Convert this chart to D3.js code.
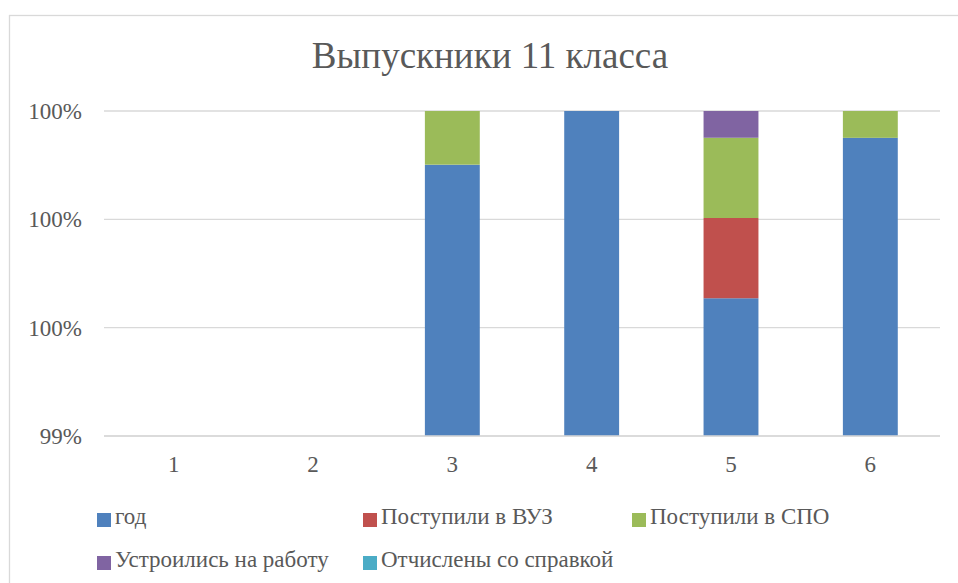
<!DOCTYPE html>
<html><head><meta charset="utf-8">
<script src="https://cdn.jsdelivr.net/npm/d3@7"></script>
<style>body{margin:0;background:#fff;}svg{display:block;}
text{font-family:"Liberation Serif","Times New Roman",Times,"DejaVu Serif","Noto Serif",serif;}</style>
</head><body>
<script>
const categories = ["1","2","3","4","5","6"];
const seriesNames = ["год","Поступили в ВУЗ","Поступили в СПО","Устроились на работу","Отчислены со справкой"];
const god        = [0, 0, 2016, 2017, 2018, 2019];
const vuz        = [0, 0, 0, 0, 3, 0];
const spo        = [0, 0, 2, 0, 3, 1];
const rabota     = [0, 0, 0, 0, 1, 0];
const otchisleny = [0, 0, 0, 0, 0, 0];
const yTicks = [0.994, 0.996, 0.998, 1.0];
const colors = ["#4f81bd","#c0504d","#9bbb59","#8064a2","#4bacc6"];

const W = 958, H = 583;
const svg = d3.select("body").append("svg").attr("width", W).attr("height", H);
svg.append("rect").attr("x",9.5).attr("y",15.5).attr("width",1000).attr("height",1000)
  .attr("fill","#fff").attr("stroke","#d9d9d9").attr("stroke-width",1.3);

const txt = "#595959";
const plot = {l:104, r:940, t:111, b:436};

svg.append("text").attr("x",490).attr("y",68).attr("text-anchor","middle")
  .attr("font-size",37).attr("fill",txt).text("Выпускники 11 класса");

const x = d3.scaleBand().domain(categories).range([plot.l, plot.r]).paddingInner(0.606).paddingOuter(0.303);
const y = d3.scaleLinear().domain([0.994, 1]).range([plot.b, plot.t]);

svg.append("g").selectAll("line").data(yTicks).join("line")
  .attr("x1",plot.l).attr("x2",plot.r).attr("y1",d=>y(d)).attr("y2",d=>y(d))
  .attr("stroke","#d9d9d9").attr("stroke-width",1.3);

const table = categories.map((c,i)=>({cat:c, s0:god[i], s1:vuz[i], s2:spo[i], s3:rabota[i], s4:otchisleny[i]}));
const keys = ["s0","s1","s2","s3","s4"];
const stack = d3.stack().keys(keys).offset(d3.stackOffsetExpand);
const layers = stack(table);

svg.append("clipPath").attr("id","clip").append("rect")
  .attr("x",plot.l).attr("y",plot.t-1).attr("width",plot.r-plot.l).attr("height",plot.b-plot.t+1);
const gBars = svg.append("g").attr("clip-path","url(#clip)");
layers.forEach((layer,k)=>{
  gBars.append("g").attr("fill",colors[k]).selectAll("rect")
    .data(layer.filter(d=>!isNaN(d[1]) && d[1]-d[0]>0)).join("rect")
    .attr("x",d=>x(d.data.cat)).attr("width",x.bandwidth())
    .attr("y",d=>y(d[1])).attr("height",d=>Math.max(0,y(d[0])-y(d[1])));
});

svg.append("line").attr("x1",plot.l).attr("x2",plot.r).attr("y1",plot.b).attr("y2",plot.b)
  .attr("stroke","#d9d9d9").attr("stroke-width",1.3);

const yAxis = d3.axisLeft(y).tickValues(yTicks).tickSize(0).tickPadding(0)
  .tickFormat(d=>Math.round(d*100)+"%");
const gy = svg.append("g").attr("transform","translate(82,0)").call(yAxis).attr("font-family",null);
gy.select(".domain").remove();
gy.selectAll("text").attr("font-size",23).attr("fill",txt).attr("dy","0.33em");

const xAxis = d3.axisBottom(x).tickSize(0).tickPadding(0);
const gx = svg.append("g").attr("transform","translate(0,472)").call(xAxis).attr("font-family",null);
gx.select(".domain").remove();
gx.selectAll("text").attr("font-size",23).attr("fill",txt).attr("dy",0);

const legPos = [[97,524],[363,524],[632,524],[97,567],[363,567]];
const leg = svg.append("g").selectAll("g").data(seriesNames).join("g")
  .attr("transform",(d,i)=>`translate(${legPos[i][0]},${legPos[i][1]})`);
leg.append("rect").attr("x",0).attr("y",-11).attr("width",14).attr("height",14).attr("fill",(d,i)=>colors[i]);
leg.append("text").attr("x",18).attr("y",0).attr("font-size",23).attr("fill",txt).text(d=>d);
</script>
</body></html>
